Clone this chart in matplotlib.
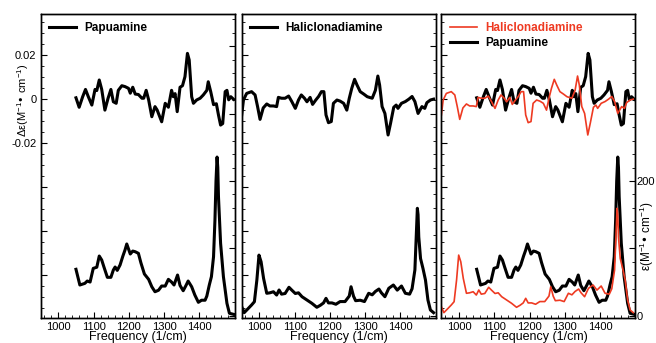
import matplotlib
matplotlib.use('agg')
import matplotlib.pyplot as plt
from matplotlib.ticker import MultipleLocator, FixedLocator, FixedFormatter

plt.rcParams['font.family'] = ['Liberation Sans', 'DejaVu Sans']
plt.rcParams['mathtext.default'] = 'regular'
plt.rcParams['axes.unicode_minus'] = False

RED = '#ee3a22'

# Papuamine CD spectrum (frequency 1/cm, delta epsilon)
papu_cd_f = [1050, 1059, 1069, 1077, 1085, 1095, 1104, 1109, 1116, 1123, 1132, 1141, 1149, 1156,
             1164, 1170, 1180, 1189, 1199, 1204, 1211, 1218, 1227, 1237, 1242, 1249, 1256, 1265,
             1274, 1280, 1293, 1303, 1312, 1321, 1326, 1331, 1337, 1345, 1352, 1359, 1366, 1371,
             1378, 1383, 1392, 1402, 1411, 1421, 1425, 1432, 1440, 1448, 1454, 1460, 1466, 1473,
             1478, 1483, 1489, 1497]
papu_cd = [0.0007, -0.0036, 0.0012, 0.0045, 0.0012, -0.0026, 0.0045, 0.0040, 0.0088, 0.0045,
           -0.0049, 0.0005, 0.0045, -0.0011, -0.0018, 0.0041, 0.0062, 0.0058, 0.0050, 0.0028,
           0.0055, 0.0024, 0.0022, 0.0005, 0.0005, 0.0041, -0.0002, -0.0079, -0.0033, -0.0048,
           -0.0102, -0.0018, -0.0036, 0.0041, 0.0012, 0.0026, -0.0056, 0.0055, 0.0062, 0.0103,
           0.0209, 0.0179, 0.0012, -0.0018, -0.0003, 0.0005, 0.0020, 0.0041, 0.0080, 0.0035,
           -0.0024, -0.0020, -0.0071, -0.0117, -0.0110, 0.0035, 0.0041, -0.0002, 0.0012, 0.0000]

# Haliclonadiamine CD spectrum
hali_cd_f = [950, 955, 964, 978, 988, 995, 1002, 1011, 1021, 1030, 1040, 1049, 1054, 1063, 1073,
             1083, 1092, 1102, 1111, 1119, 1128, 1135, 1144, 1151, 1160, 1168, 1176, 1183, 1189,
             1196, 1204, 1210, 1220, 1229, 1239, 1248, 1255, 1262, 1270, 1277, 1286, 1296, 1306,
             1320, 1329, 1336, 1341, 1348, 1356, 1365, 1372, 1381, 1388, 1393, 1403, 1414, 1424,
             1433, 1441, 1450, 1461, 1469, 1475, 1485, 1494]
hali_cd = [-0.0071, -0.0003, 0.0027, 0.0035, 0.0020, -0.0033, -0.0091, -0.0039, -0.0021, -0.0030,
           -0.0030, -0.0033, 0.0009, 0.0005, 0.0005, 0.0015, -0.0010, -0.0041, -0.0003, 0.0020,
           0.0005, -0.0011, 0.0009, -0.0023, -0.0003, 0.0013, 0.0035, 0.0035, -0.0071, -0.0106,
           -0.0101, -0.0018, -0.0003, -0.0008, -0.0018, -0.0049, 0.0005, 0.0050, 0.0091, 0.0065,
           0.0035, 0.0024, 0.0012, 0.0005, 0.0041, 0.0106, 0.0065, -0.0033, -0.0064, -0.0162,
           -0.0109, -0.0036, -0.0026, -0.0041, -0.0018, -0.0010, 0.0001, 0.0013, -0.0010, -0.0064,
           -0.0033, -0.0041, -0.0015, -0.0003, 0.0001]

# Papuamine absorption (epsilon)
papu_ab_f = [1050, 1061, 1075, 1082, 1090, 1099, 1109, 1116, 1123, 1129, 1139, 1149, 1156, 1161,
             1167, 1175, 1183, 1189, 1194, 1204, 1211, 1218, 1227, 1234, 1244, 1256, 1265, 1274,
             1284, 1293, 1303, 1312, 1321, 1328, 1338, 1345, 1354, 1362, 1368, 1378, 1387, 1397,
             1406, 1416, 1421, 1428, 1434, 1440, 1444, 1447, 1450, 1452, 1454, 1460, 1468, 1478,
             1485, 1497]
papu_ab = [68.9, 45.6, 48, 51.5, 50, 70.3, 72, 88.6, 82.7, 72.8, 57, 57, 67.9, 72.3, 67.3, 75.3,
           88.6, 97.5, 106.5, 91.6, 96, 95, 92.6, 78.7, 61.9, 54, 43, 35.6, 37.8, 44.1, 44, 54,
           50, 45.6, 60.4, 45, 37.1, 45, 51.5, 43, 30.7, 19.9, 23, 23, 29.2, 45.6, 58, 87.6, 142,
           200, 235.6, 220, 176.7, 107.5, 58, 18.4, 3.6, 2]

# Haliclonadiamine absorption
hali_ab_f = [950, 957, 969, 978, 986, 993, 999, 1005, 1012, 1021, 1030, 1040, 1049, 1056, 1063,
             1073, 1084, 1092, 1102, 1111, 1121, 1135, 1149, 1163, 1173, 1182, 1189, 1196, 1206,
             1217, 1229, 1243, 1255, 1260, 1267, 1273, 1286, 1298, 1310, 1320, 1329, 1339, 1346,
             1356, 1367, 1380, 1391, 1403, 1414, 1426, 1433, 1441, 1445, 1448, 1450, 1452, 1457,
             1464, 1471, 1478, 1485, 1494]
hali_ab = [13.4, 4.5, 11, 15.9, 20.8, 53, 90, 80, 55.5, 33.3, 34, 35.6, 30.7, 38.2, 32, 33, 42.2,
           38, 33, 34, 28.2, 23.3, 18.4, 12.5, 15.5, 19, 25.8, 19, 19, 17, 21, 21, 29.2, 43, 29,
           22.3, 23, 21, 33.3, 31, 36, 39.6, 34, 28.2, 40.7, 45.6, 38, 44.1, 33.3, 32, 40, 67.9,
           120, 159.5, 150, 117, 85, 70, 53, 23.3, 8.5, 4.5]

x_ticks = [1000, 1100, 1200, 1300, 1400, 1500]
x_labels = ['1000', '1100', '1200', '1300', '1400', '']
cd_ticks = [-0.08, -0.06, -0.04, -0.02, 0, 0.02]
cd_labels = ['', '', '', '-0.02', '0', '0.02']
ab_ticks = [0, 100, 200, 300, 400]
ab_labels = ['0', '', '200', '', '']

fig = plt.figure(figsize=(6.56, 3.43), dpi=100)
W, H = 656, 343
lefts = [40.7, 241.7, 441.4]
top, bottom, width = 14, 318, 194

panels = []
for i, l in enumerate(lefts):
    ax = fig.add_axes([l / W, 1 - bottom / H, width / W, (bottom - top) / H])
    ax2 = ax.twinx()
    ax.set_xlim(950, 1500)
    ax.set_ylim(-0.0994, 0.0388)
    ax2.set_ylim(-3.4, 448)

    ax.xaxis.set_major_locator(FixedLocator(x_ticks))
    ax.xaxis.set_major_formatter(FixedFormatter(x_labels))
    ax.xaxis.set_minor_locator(MultipleLocator(20))
    ax.yaxis.set_major_locator(FixedLocator(cd_ticks))
    ax.yaxis.set_minor_locator(MultipleLocator(0.005))
    ax2.yaxis.set_major_locator(FixedLocator(ab_ticks))
    ax2.yaxis.set_minor_locator(MultipleLocator(20))

    if i == 0:
        ax.yaxis.set_major_formatter(FixedFormatter(cd_labels))
    else:
        ax.yaxis.set_major_formatter(FixedFormatter([''] * len(cd_ticks)))
    if i == 2:
        ax2.yaxis.set_major_formatter(FixedFormatter(ab_labels))
    else:
        ax2.yaxis.set_major_formatter(FixedFormatter([''] * len(ab_ticks)))

    ax.tick_params(which='both', direction='in', labelsize=8, pad=3, right=False, top=False)
    ax.tick_params(which='major', length=4.5, width=0.8)
    ax.tick_params(which='minor', length=2.5, width=0.6)
    ax2.tick_params(which='both', direction='in', labelsize=8, pad=1)
    ax2.tick_params(which='major', length=4.5, width=0.8)
    ax2.tick_params(which='minor', length=2.5, width=0.6)
    for a in (ax, ax2):
        for s in a.spines.values():
            s.set_linewidth(1.0)
    ax.set_xlabel('Frequency (1/cm)', fontsize=9, labelpad=-1)
    panels.append((ax, ax2))

lw = 2.2
leg_kw = dict(loc='upper left', frameon=False, prop={'weight': 'bold', 'size': 8.5},
              handlelength=2.3, handletextpad=0.7, borderaxespad=0.5, borderpad=0.2,
              labelspacing=0.25)

# panel 1: Papuamine
ax, ax2 = panels[0]
ax.plot(papu_cd_f, papu_cd, color='black', lw=lw, label='Papuamine', solid_joinstyle='round')
ax2.plot(papu_ab_f, papu_ab, color='black', lw=lw, solid_joinstyle='round')
ax.legend(**leg_kw)

# panel 2: Haliclonadiamine
ax, ax2 = panels[1]
ax.plot(hali_cd_f, hali_cd, color='black', lw=lw, label='Haliclonadiamine', solid_joinstyle='round')
ax2.plot(hali_ab_f, hali_ab, color='black', lw=lw, solid_joinstyle='round')
ax.legend(**leg_kw)

# panel 3: overlay
ax, ax2 = panels[2]
l_p, = ax.plot(papu_cd_f, papu_cd, color='black', lw=lw, solid_joinstyle='round')
l_h, = ax.plot(hali_cd_f, hali_cd, color=RED, lw=1.2)
ax2.plot(papu_ab_f, papu_ab, color='black', lw=lw, solid_joinstyle='round')
ax2.plot(hali_ab_f, hali_ab, color=RED, lw=1.2)
leg = ax.legend([l_h, l_p], ['Haliclonadiamine', 'Papuamine'], **leg_kw)
leg.get_texts()[0].set_color(RED)

fig.text(23 / W, 1 - 100 / H, r'$\Delta\varepsilon$(M$^{-1}$• cm$^{-1}$)', rotation=90,
         ha='center', va='center', fontsize=8)
fig.text(647 / W, 1 - 236 / H, r'$\varepsilon$(M$^{-1}$• cm$^{-1}$)', rotation=90,
         ha='center', va='center', fontsize=8.5)

fig.savefig('out.png', dpi=100)
